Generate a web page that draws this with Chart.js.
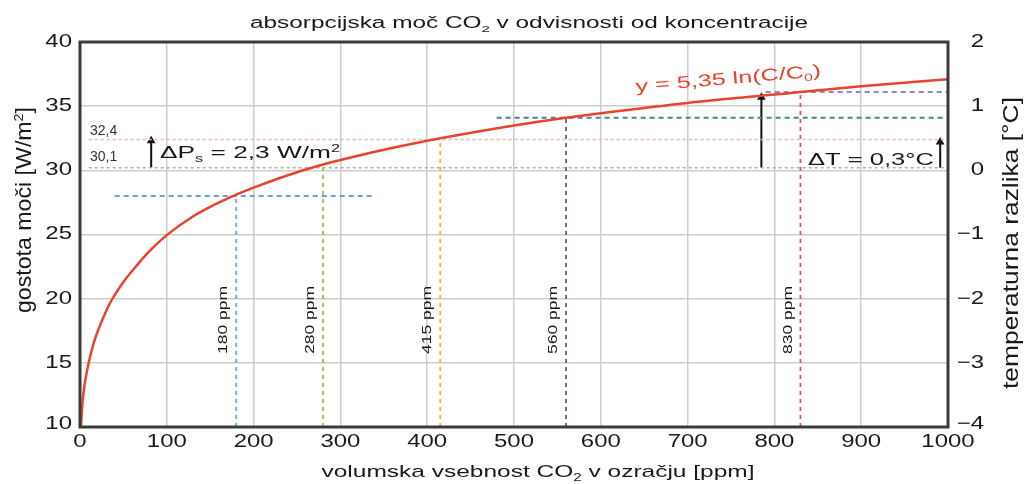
<!DOCTYPE html>
<html>
<head>
<meta charset="utf-8">
<script src="https://cdn.jsdelivr.net/npm/chart.js@4"></script>
<style>
  html, body { margin: 0; background: #fff; }
</style>
</head>
<body>
<canvas id="co2Chart" width="1026" height="484"></canvas>
<script>
// values
const ppm = [1, 3, 6, 10, 16, 23, 35, 50, 65, 80, 100, 130, 150, 180, 200, 250, 280, 300, 350, 400, 415, 500, 560, 600, 700, 800, 830, 900, 1000];
const powerDensity = [10, 12.0, 13.6, 15.0, 16.6, 17.9, 19.7, 21.3, 22.55, 23.7, 24.95, 26.4, 27.15, 28.1, 28.65, 29.85, 30.45, 30.8, 31.6, 32.3, 32.5, 33.5, 34.1, 34.45, 35.25, 35.9, 36.1, 36.55, 37.1];

const markerPpm = [180, 280, 415, 560, 830];
const markerTop = [28.0, 30.2, 32.4, 34.1, 36.1];

const guideLevel = [28.0, 30.2, 32.4, 34.1, 36.1];
const guideStart = [40, 10, 10, 480, 790];
const guideEnd = [340, 1000, 1000, 1000, 1000];

const arrowPpm = [82, 785, 991];
const arrowFrom = [30.2, 30.2, 30.2];
const arrowTo = [32.3, 35.7, 32.2];

const xTicks = [0, 100, 200, 300, 400, 500, 600, 700, 800, 900, 1000];
const yTicks = [10, 15, 20, 25, 30, 35, 40];
const tempTicks = [-4, -3, -2, -1, 0, 1, 2];

const markerColors = ['#6f9fd8', '#9cc24a', '#f2b03c', '#4d6e6c', '#d9507a'];
const guideColors = ['#6f9fd8', '#a9b59a', '#f2b5a3', '#4a8585', '#8d86c9'];
const FONT = '"Liberation Sans", Arial, sans-serif';

function measureParts(ctx, parts, size) {
    let w = 0;
    parts.forEach(p => {
        const s = (p.sub || p.sup) ? size * 0.62 : size;
        ctx.font = s + 'px ' + FONT;
        w += ctx.measureText(p.t).width;
    });
    return w;
}

function drawText(ctx, parts, x, y, o) {
    if (typeof parts === 'string') parts = [{ t: parts }];
    const size = o.size;
    ctx.save();
    ctx.translate(x, y);
    ctx.rotate(o.angle || 0);
    const nat = measureParts(ctx, parts, size);
    const sx = o.width ? o.width / nat : (o.sx || 1);
    ctx.scale(sx, 1);
    let cx = o.align === 'center' ? -nat / 2 : o.align === 'right' ? -nat : 0;
    ctx.textBaseline = o.baseline || 'alphabetic';
    ctx.textAlign = 'left';
    ctx.fillStyle = o.color || '#1a1a1a';
    parts.forEach(p => {
        const s = (p.sub || p.sup) ? size * 0.62 : size;
        const dy = p.sub ? size * 0.22 : p.sup ? -size * 0.38 : 0;
        ctx.font = s + 'px ' + FONT;
        ctx.fillText(p.t, cx, dy);
        cx += ctx.measureText(p.t).width;
    });
    ctx.restore();
}

const annotations = {
    id: 'annotations',
    afterDraw(chart) {
        const ctx = chart.ctx;
        const a = chart.chartArea;
        const x = chart.scales.x, y = chart.scales.y, t = chart.scales.y2;

        // frame
        ctx.save();
        ctx.strokeStyle = '#3a3a3a';
        ctx.lineWidth = 3;
        ctx.strokeRect(a.left, a.top, a.right - a.left, a.bottom - a.top);
        ctx.restore();

        // tick labels
        const tick = { size: 18, sx: 1.33, baseline: 'middle' };
        xTicks.forEach(v => drawText(ctx, String(v), x.getPixelForValue(v), 442, { ...tick, align: 'center' }));
        yTicks.forEach(v => drawText(ctx, String(v), 72, Math.min(y.getPixelForValue(v), a.bottom - 3), { ...tick, align: 'right' }));
        tempTicks.forEach(v => drawText(ctx, String(v).replace('-', '\u2212'), 984, Math.min(t.getPixelForValue(v), a.bottom - 3), { ...tick, align: 'right' }));

        // titles
        drawText(ctx, [{ t: 'absorpcijska moč CO' }, { t: '2', sub: true }, { t: ' v odvisnosti od koncentracije' }], 529, 28, { size: 16, width: 558, align: 'center' });
        drawText(ctx, [{ t: 'volumska vsebnost CO' }, { t: '2', sub: true }, { t: ' v ozračju [ppm]' }], 538, 477, { size: 17, width: 433, align: 'center' });
        drawText(ctx, [{ t: 'gostota moči [W/m' }, { t: '2', sup: true }, { t: ']' }], 31, 210, { size: 22, width: 206, align: 'center', angle: -Math.PI / 2 });
        drawText(ctx, 'temperaturna razlika [°C]', 1018, 243, { size: 22, width: 292, align: 'center', angle: -Math.PI / 2 });

        // ppm labels next to the vertical markers
        markerPpm.forEach(p => drawText(ctx, p + ' ppm', x.getPixelForValue(p) - 12.5, 320, { size: 13, width: 68, align: 'center', baseline: 'middle', angle: -Math.PI / 2 }));

        // level values and deltas
        drawText(ctx, '32,4', 90, y.getPixelForValue(32.4) - 8, { size: 14, baseline: 'middle', color: '#333' });
        drawText(ctx, '30,1', 90, y.getPixelForValue(30.2) - 11, { size: 14, baseline: 'middle', color: '#333' });
        drawText(ctx, [{ t: 'ΔP' }, { t: 's', sub: true }, { t: ' = 2,3 W/m' }, { t: '2', sup: true }], 160, 158, { size: 17, width: 180 });
        drawText(ctx, 'ΔT = 0,3°C', 808, 165, { size: 17, width: 126 });
        drawText(ctx, [{ t: 'y = 5,35 ln(C/C' }, { t: '0', sub: true }, { t: ')' }], 636, 92, { size: 17, width: 186, angle: -4.9 * Math.PI / 180, color: '#e8432d' });
    }
};

const datasets = [];
datasets.push({
    data: ppm.map((v, i) => ({ x: v, y: powerDensity[i] })),
    borderColor: '#e8432d',
    borderWidth: 2.5,
    pointRadius: 0,
    cubicInterpolationMode: 'monotone'
});
guideLevel.forEach((lv, i) => datasets.push({
    data: [{ x: guideStart[i], y: lv }, { x: guideEnd[i], y: lv }],
    borderColor: guideColors[i],
    borderWidth: i === 1 || i === 2 ? 1.5 : 2,
    borderDash: i === 1 || i === 2 ? [3, 3] : [5, 4],
    pointRadius: 0
}));
markerPpm.forEach((p, i) => datasets.push({
    data: [{ x: p, y: 10 }, { x: p, y: markerTop[i] }],
    borderColor: markerColors[i],
    borderWidth: 1.8,
    borderDash: [4, 4],
    pointRadius: 0
}));
arrowPpm.forEach((p, i) => datasets.push({
    data: [{ x: p, y: arrowFrom[i] }, { x: p, y: arrowTo[i] }],
    borderColor: '#111',
    borderWidth: 2,
    pointRadius: [0, 5],
    pointStyle: 'triangle',
    pointBackgroundColor: '#111',
    pointBorderWidth: 0
}));

const gridStyle = { color: '#cdcdcd', lineWidth: 1.5, drawTicks: false };

new Chart(document.getElementById('co2Chart').getContext('2d'), {
    type: 'line',
    data: { datasets: datasets },
    options: {
        responsive: false,
        devicePixelRatio: 1,
        animation: false,
        layout: { padding: { top: 42, left: 0, right: 0, bottom: 0 } },
        plugins: { legend: { display: false }, title: { display: false }, tooltip: { enabled: false } },
        scales: {
            x: {
                type: 'linear', min: 0, max: 1000,
                ticks: { display: false },
                grid: gridStyle,
                border: { display: false },
                afterBuildTicks: s => { s.ticks = xTicks.map(v => ({ value: v })); },
                afterFit: s => { s.height = 57; }
            },
            y: {
                position: 'left', min: 10, max: 40,
                ticks: { display: false },
                grid: gridStyle,
                border: { display: false },
                afterBuildTicks: s => { s.ticks = yTicks.map(v => ({ value: v })); },
                afterFit: s => { s.width = 80; }
            },
            y2: {
                position: 'right', min: -4, max: 2,
                ticks: { display: false },
                grid: { display: false },
                border: { display: false },
                afterBuildTicks: s => { s.ticks = tempTicks.map(v => ({ value: v })); },
                afterFit: s => { s.width = 78; }
            }
        }
    },
    plugins: [annotations]
});
</script>
</body>
</html>
